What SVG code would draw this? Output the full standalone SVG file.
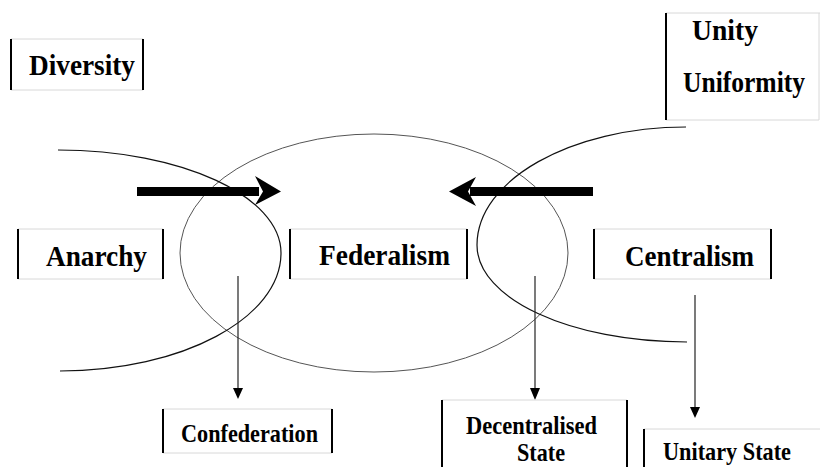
<svg xmlns="http://www.w3.org/2000/svg" width="820" height="467" viewBox="0 0 820 467">
<style>
.hl{stroke:#d8d8d8;stroke-width:1;fill:none}
.vl{stroke:#000;stroke-width:2;fill:none}
.lbl{font-family:'Liberation Serif','Times New Roman',Tinos,'DejaVu Serif',serif;font-weight:700;font-size:29px;fill:#000}
.sm{font-family:'Liberation Serif','Times New Roman',Tinos,'DejaVu Serif',serif;font-weight:700;font-size:26px;fill:#000}
.arc{stroke:#111;stroke-width:1.2;fill:none}
.ell{stroke:#555;stroke-width:1;fill:none}
.thin{stroke:#222;stroke-width:1.2;fill:none}
</style>
<rect width="820" height="467" fill="#fff"/>
<g id="connectors">
<ellipse class="ell" cx="374" cy="253" rx="194" ry="119"/>
<path class="arc" d="M58,150 C181,150 281,196 281,253 C281,318 182,371 60,371"/>
<path class="arc" d="M686,127 C571,127 477,180 477,245 C477,299 571,342 687,342"/>
<rect x="137" y="187" width="122" height="9" fill="#000"/>
<path d="M281,191.5 L255,176 L263,191.5 L255,205 Z" fill="#000"/>
<rect x="470" y="187" width="123" height="9" fill="#000"/>
<path d="M449,191.5 L476,177 L468,191.5 L476,206 Z" fill="#000"/>
<line class="thin" x1="238" y1="276" x2="238" y2="390"/>
<path d="M233,388 L243,388 L238,399 Z" fill="#000"/>
<line class="thin" x1="535" y1="276" x2="535" y2="390"/>
<path d="M530,388 L540,388 L535,400 Z" fill="#000"/>
<line class="thin" x1="695" y1="295" x2="695" y2="409"/>
<path d="M690,407 L700,407 L695,418 Z" fill="#000"/>
</g>
<g id="diversity">
<line class="hl" x1="11" y1="39" x2="143" y2="39"/><line class="hl" x1="11" y1="90" x2="143" y2="90"/>
<line class="vl" x1="11" y1="39" x2="11" y2="90"/><line class="vl" x1="143" y1="39" x2="143" y2="90"/>
<text class="lbl" x="29" y="75" textLength="106" lengthAdjust="spacingAndGlyphs">Diversity</text>
</g>
<g id="unity">
<line class="hl" x1="666" y1="13" x2="820" y2="13"/><line class="hl" x1="666" y1="120" x2="819" y2="120"/>
<line class="vl" x1="666" y1="13" x2="666" y2="120"/><line class="hl" x1="819" y1="13" x2="819" y2="120"/>
<text class="lbl" x="692" y="40" textLength="66" lengthAdjust="spacingAndGlyphs">Unity</text>
<text class="lbl" x="683" y="92" textLength="122" lengthAdjust="spacingAndGlyphs">Uniformity</text>
</g>
<g id="anarchy">
<line class="hl" x1="18" y1="229" x2="163" y2="229"/><line class="hl" x1="18" y1="279" x2="163" y2="279"/>
<line class="vl" x1="18" y1="229" x2="18" y2="279"/><line class="vl" x1="163" y1="229" x2="163" y2="279"/>
<text class="lbl" x="46" y="266" textLength="101" lengthAdjust="spacingAndGlyphs">Anarchy</text>
</g>
<g id="federalism">
<line class="hl" x1="290" y1="229" x2="467" y2="229"/><line class="hl" x1="290" y1="279" x2="467" y2="279"/>
<line class="vl" x1="290" y1="229" x2="290" y2="279"/><line class="vl" x1="467" y1="229" x2="467" y2="279"/>
<text class="lbl" x="319" y="265" textLength="131" lengthAdjust="spacingAndGlyphs">Federalism</text>
</g>
<g id="centralism">
<line class="hl" x1="594" y1="229" x2="771" y2="229"/><line class="hl" x1="594" y1="279" x2="771" y2="279"/>
<line class="vl" x1="594" y1="229" x2="594" y2="279"/><line class="vl" x1="771" y1="229" x2="771" y2="279"/>
<text class="lbl" x="625" y="266" textLength="129" lengthAdjust="spacingAndGlyphs">Centralism</text>
</g>
<g id="confederation">
<line class="hl" x1="163" y1="409" x2="332" y2="409"/><line class="hl" x1="163" y1="453" x2="332" y2="453"/>
<line class="vl" x1="163" y1="409" x2="163" y2="453"/><line class="vl" x1="332" y1="409" x2="332" y2="453"/>
<text class="sm" x="181" y="442" textLength="137" lengthAdjust="spacingAndGlyphs">Confederation</text>
</g>
<g id="decentralised">
<line class="hl" x1="442" y1="400" x2="627" y2="400"/>
<line class="vl" x1="442" y1="400" x2="442" y2="467"/><line class="vl" x1="627" y1="400" x2="627" y2="467"/>
<text class="sm" x="466" y="434" textLength="131" lengthAdjust="spacingAndGlyphs">Decentralised</text>
<text class="sm" x="517" y="461" textLength="48" lengthAdjust="spacingAndGlyphs">State</text>
</g>
<g id="unitary">
<line class="hl" x1="644" y1="429" x2="820" y2="429"/>
<line class="vl" x1="644" y1="429" x2="644" y2="467"/>
<text class="sm" x="663" y="460" textLength="128" lengthAdjust="spacingAndGlyphs">Unitary State</text>
</g>
</svg>
